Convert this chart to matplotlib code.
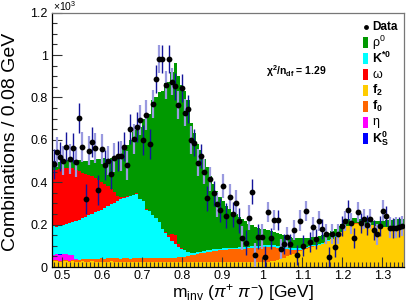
import numpy as np
import matplotlib
matplotlib.use("Agg")
import matplotlib.pyplot as plt
from matplotlib.patches import Rectangle
from matplotlib.ticker import MultipleLocator, FuncFormatter

plt.rcParams['font.family'] = ['Liberation Sans', 'DejaVu Sans']
plt.rcParams['mathtext.fontset'] = 'custom'
plt.rcParams['mathtext.rm'] = 'Liberation Sans'
plt.rcParams['mathtext.it'] = 'Liberation Sans:italic'
plt.rcParams['mathtext.bf'] = 'Liberation Sans:bold'

# binning (GeV)
m_lo = 0.474
bin_width = 0.008
n_bins = 110

# data points (units of 10^3)
data = [0.487, 0.542, 0.521, 0.502, 0.568, 0.509, 0.561, 0.497, 0.704, 0.565,
        0.320, 0.549, 0.589, 0.561, 0.364, 0.556, 0.482, 0.502, 0.439, 0.516,
        0.524, 0.524, 0.568, 0.479, 0.652, 0.603, 0.660, 0.694, 0.600, 0.718,
        0.581, 0.768, 0.887, 0.982, 0.981, 0.860, 0.982, 0.875, 0.852, 0.765,
        0.844, 0.729, 0.746, 0.600, 0.587, 0.493, 0.524, 0.450, 0.324, 0.416,
        0.348, 0.296, 0.269, 0.383, 0.242, 0.332, 0.249, 0.304, 0.219, 0.136,
        0.115, 0.233, 0.356, 0.057, 0.143, 0.143, 0.049, 0.261, 0.135, 0.222,
        0.222, 0.085, 0.109, 0.140, 0.107, 0.175, 0.057, 0.219, 0.101, 0.265,
        0.117, 0.190, 0.132, 0.217, 0.178, 0.156, 0.046, 0.156, 0.096, 0.156,
        0.194, 0.217, 0.269, 0.206, 0.138, 0.258, 0.209, 0.225, 0.198, 0.225,
        0.175, 0.154, 0.194, 0.266, 0.241, 0.186, 0.183, 0.186, 0.190, 0.192]
data_err = [0.07] * 31 + [0.065] * 15 + [0.058] * 20 + [0.048] * 44

# fitted components, stacked bottom to top
f2 = [.026, .027, .025, .026, .028, .025, .026, .024,
      .025, .027, .025, .024, .026, .024, .025, .023,
      .025, .024, .026, .024, .025, .023, .025, .024,
      .022, .024, .023, .022, .024, .023, .022, .024,
      .023, .022, .024, .023, .022, .024, .023, .022,
      .023, .022, .024, .023, .022, .023, .022, .024,
      .023, .022, .023, .022, .024, .023, .022, .024,
      .023, .022, .024, .023, .022, .024, .023, .022,
      .024, .023, .024, .025, .027, .030, .034, .039,
      .044, .050, .055, .062, .068, .074, .080, .086,
      .091, .096, .100, .104, .109, .115, .122, .130,
      .140, .152, .163, .178, .192, .200, .205, .205,
      .202, .200, .198, .198, .196, .192, .188, .187,
      .187, .188, .189, .190, .190, .190]
f0 = [.005, .005, .005, .005, .005, .005, .006, .007,
      .010, .010, .011, .014, .014, .014, .015, .018,
      .015, .018, .015, .019, .017, .017, .017, .017,
      .018, .018, .020, .019, .019, .021, .020, .019,
      .021, .020, .019, .019, .019, .019, .021, .023,
      .023, .026, .028, .033, .036, .039, .043, .044,
      .048, .051, .053, .055, .055, .057, .059, .059,
      .060, .062, .062, .062, .065, .064, .067, .068,
      .068, .070, .071, .071, .069, .064, .058, .050,
      .042, .033, .026, .018, .012, .008, .005, .003,
      .002, .001, .001, .001, .001, .001, .001, .001,
      .001, .001, .001, .001, .001, .001, .001, .001,
      .001, .001, .001, 0, 0, 0, 0, 0,
      0, 0, 0, 0, 0, 0]
eta = [.027, .028, .028, .028, .027, .027, .026, .009] + [0.0] * 102
ks0 = [0.0, 0.0, .003, .003] + [0.0] * 106
kstar = [.136, .130, .134, .138, .143, .149, .152, .175,
         .187, .193, .202, .207, .210, .222, .226, .229,
         .240, .248, .254, .257, .268, .280, .283, .289,
         .295, .298, .302, .279, .267, .226, .220, .202,
         .186, .168, .137, .118, .099, .082, .066, .050,
         .039, .030, .020, .012, .010, .008, .008, .008,
         .008, .008, .008, .008, .008, .008, .008, .008,
         .008, .008, .008, .008, .008, .008, .008, .008,
         .008, .008, .008, .008, .008, .008, .008, .008,
         .008, .008, .008, .008, .008, .008, .007, .006,
         .006, .006, .005, .005, .004, .004, .004, .003,
         .003, .003, .002, .002, .002, .002, .001, .001,
         .001, .001, .001, .001, .001, .001, .001, .001,
         .001, .001, .001, .001, .001, .001]
omega = [.264, .270, .267, .266, .262, .262, .255, .245,
         .230, .215, .202, .190, .180, .162, .146, .132,
         .112, .090, .073, .052, .025, .008, .005, .003,
         .002, .002, .002, .002, .002, .002, .002, .001,
         .001, .001, .001, .005, .010, .030, .040, .015,
         .005, .001] + [0.0] * 68
rho = [.032, .040, .033, .034, .040, .032, .035, .045,
       .053, .055, .060, .065, .075, .088, .098, .108,
       .123, .130, .147, .168, .190, .202, .230, .242,
       .263, .293, .298, .338, .388, .443, .456, .544,
       .569, .617, .649, .702, .725, .765, .812, .790,
       .770, .751, .718, .612, .562, .510, .477, .434,
       .391, .349, .306, .275, .243, .222, .201, .184,
       .169, .158, .141, .132, .120, .109, .100, .092,
       .085, .079, .075, .071, .066, .063, .060, .058,
       .056, .054, .051, .050, .047, .045, .043, .040,
       .039, .037, .036, .035, .036, .035, .033, .036,
       .036, .039, .039, .034, .030, .027, .025, .023,
       .024, .023, .022, .021, .021, .022, .026, .030,
       .032, .033, .032, .034, .034, .035]

layers = [f2, f0, eta, ks0, kstar, omega, rho]
colors = ['#ffcc00', '#ff6600', '#ff00ff', '#0000ff', '#00ffff', '#ff0000', '#009900']

edges = m_lo + bin_width * np.arange(n_bins + 1)
centers = 0.5 * (edges[:-1] + edges[1:])

fig = plt.figure(figsize=(4.07, 3.02), dpi=100)
ax = fig.add_axes([52 / 407, 35 / 302, 352 / 407, 254.3 / 302])

bottom = np.zeros(n_bins)
for vals, col in zip(layers, colors):
    top = bottom + np.array(vals)
    ax.stairs(top, edges, baseline=bottom, fill=True, color=col, lw=0)
    bottom = top

data = np.array(data)
data_err = np.array(data_err)
odd = np.arange(n_bins) % 2 == 1
ax.errorbar(centers[odd], data[odd], yerr=data_err[odd], fmt='none',
            ecolor='#9a9ae0', elinewidth=1.6, capsize=0, zorder=3)
ax.errorbar(centers[~odd], data[~odd], yerr=data_err[~odd], fmt='none',
            ecolor='#14149a', elinewidth=1.0, capsize=0, zorder=3)
ax.plot(centers, data, 'o', color='black', ms=4.2, mew=0, zorder=4)

ax.set_xlim(m_lo, edges[-1])
ax.set_ylim(0, 1.2)
ax.xaxis.set_major_locator(MultipleLocator(0.1))
ax.xaxis.set_minor_locator(MultipleLocator(0.01))
ax.yaxis.set_major_locator(MultipleLocator(0.2))
ax.yaxis.set_minor_locator(MultipleLocator(0.05))
fmt = FuncFormatter(lambda v, p: '%g' % round(v, 3))
ax.xaxis.set_major_formatter(fmt)
ax.yaxis.set_major_formatter(fmt)
ax.tick_params(which='both', direction='in', top=False, right=False,
               labelsize=9, color='#333333', width=0.8)
ax.tick_params(which='major', length=7)
ax.tick_params(axis='x', which='major', pad=2)
ax.tick_params(axis='y', which='major', pad=3)
ax.tick_params(which='minor', length=3.5)
for s in ['left', 'bottom']:
    ax.spines[s].set_linewidth(0.9)
for s in ['top', 'right']:
    ax.spines[s].set_color('#777777')
    ax.spines[s].set_linewidth(0.9)

fig.text(53 / 407, 1 - 6 / 302, r'$\times10^{3}$', fontsize=7.5, va='center', ha='left')
fig.text(11 / 407, 1 - 141.5 / 302, 'Combinations / 0.08 GeV', rotation=90,
         fontsize=14, ha='center', va='center')
fig.text(243 / 407, 1 - 297 / 302,
         r'm$_{\mathrm{inv}}$ ($\pi^{+}$ $\pi^{-}$) [GeV]',
         fontsize=12.5, ha='center', va='baseline')

fig.text(266 / 407, 1 - 71 / 302, r'$\mathbf{\chi^{2}/n_{df}}$ = 1.29',
         fontsize=7.5, fontweight='bold', ha='left', va='center')

# legend
fig.text(372.7 / 407, 1 - 26.7 / 302, 'Data', fontsize=8.5, fontweight='bold',
         ha='left', va='center')
fig.lines.append(plt.Line2D([365.7 / 407], [1 - 26.7 / 302], marker='o', color='black',
                            ms=3.5, mew=0, transform=fig.transFigure))
leg_labels = [r'$\mathrm{\rho}^{0}$', r'$\mathbf{K}^{\mathbf{*0}}$', r'$\mathrm{\omega}$',
              r'$\mathbf{f}_{\mathbf{2}}$', r'$\mathbf{f}_{\mathbf{0}}$', r'$\mathrm{\eta}$',
              r'$\mathbf{K}_{\mathbf{S}}^{\mathbf{0}}$']
leg_colors = ['#009900', '#00ffff', '#ff0000', '#ffcc00', '#ff6600', '#ff00ff', '#0000ff']
for k, (lab, col) in enumerate(zip(leg_labels, leg_colors)):
    yc = 42.7 + 16 * k
    fig.patches.append(Rectangle((362.7 / 407, 1 - (yc + 5.5) / 302), 5 / 407, 11 / 302,
                                 facecolor=col, edgecolor='none', transform=fig.transFigure))
    fig.text(371.7 / 407, 1 - yc / 302, lab, fontsize=9, ha='left', va='center')

fig.savefig('out.png', dpi=100)
